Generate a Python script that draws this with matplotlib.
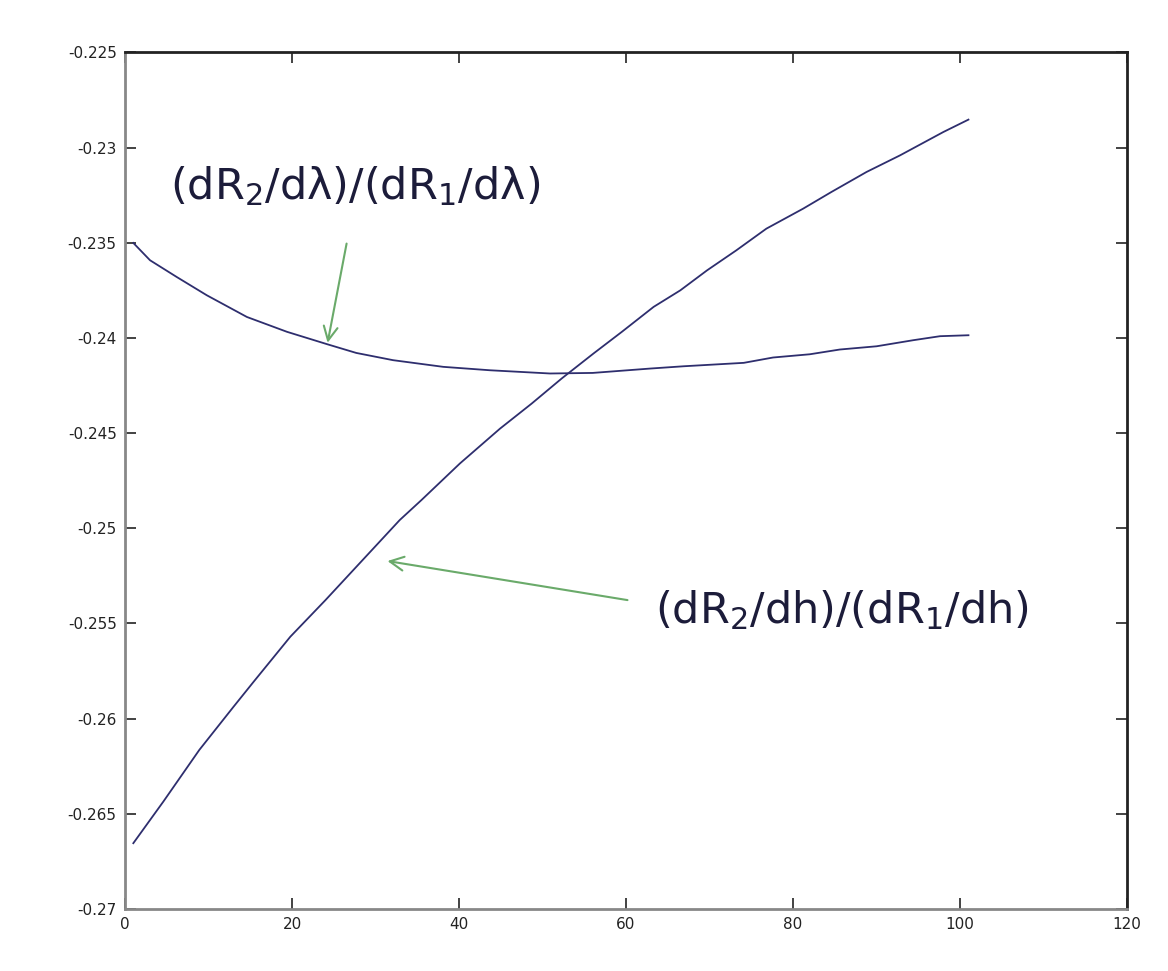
import matplotlib
matplotlib.use("Agg")
import matplotlib.pyplot as plt

# Curve 1: (dR2/dλ)/(dR1/dλ)
x_lam = [1, 3, 6.2, 9.8, 14.6, 19.4, 24.2, 27.7, 32.1, 38.1, 43.7, 50.9, 56, 62.9, 66.9, 74.1, 77.6, 82.0, 85.6, 90.0, 94.4, 97.6, 101]
y_lam = [-0.23501, -0.23592, -0.23680, -0.23776, -0.23890, -0.23968, -0.24033, -0.24079, -0.24117, -0.24152,
         -0.24170, -0.24187, -0.24184, -0.24161, -0.24149, -0.24131, -0.24103, -0.24086, -0.24061, -0.24044,
         -0.24012, -0.23991, -0.23986]

# Curve 2: (dR2/dh)/(dR1/dh)
x_h = [1, 4.6, 8.9, 13.0, 15.4, 19.8, 24.0, 32.9, 35.5, 40.1, 44.9, 48.7, 52.3, 56.1, 59.5, 63.3, 66.5, 69.7,
       73.2, 76.8, 81.2, 84.6, 88.8, 92.8, 98.0, 101]
y_h = [-0.26655, -0.26436, -0.26165, -0.25938, -0.25807, -0.25570, -0.25378, -0.24957, -0.24852, -0.24660,
       -0.24477, -0.24345, -0.24213, -0.24082, -0.23968, -0.23837, -0.23750, -0.23645, -0.23540, -0.23426,
       -0.23321, -0.23233, -0.23128, -0.23041, -0.22918, -0.22853]

x_ticks = [0, 20, 40, 60, 80, 100, 120]
y_ticks = [-0.27, -0.265, -0.26, -0.255, -0.25, -0.245, -0.24, -0.235, -0.23, -0.225]
y_tick_labels = ["-0.27", "-0.265", "-0.26", "-0.255", "-0.25", "-0.245", "-0.24", "-0.235", "-0.23", "-0.225"]

label_lam = "(dR$_2$/dλ)/(dR$_1$/dλ)"
label_h = "(dR$_2$/dh)/(dR$_1$/dh)"

plt.rcParams['mathtext.fontset'] = 'dejavusans'
plt.rcParams['mathtext.default'] = 'regular'

fig = plt.figure(figsize=(11.68, 9.71), dpi=100)
ax = fig.add_axes([0.107, 0.064, 0.858, 0.882])

line_color = '#2e2e6e'
ax.plot(x_lam, y_lam, color=line_color, lw=1.3)
ax.plot(x_h, y_h, color=line_color, lw=1.3)

ax.set_xlim(0, 120)
ax.set_ylim(-0.27, -0.225)
ax.set_xticks(x_ticks)
ax.set_xticklabels([str(t) for t in x_ticks])
ax.set_yticks(y_ticks)
ax.set_yticklabels(y_tick_labels)
ax.tick_params(direction='in', length=8, width=1.2, top=True, right=True,
               labelsize=11, colors='#222222', pad=6)

for s in ['left', 'bottom']:
    ax.spines[s].set_color('#888888')
    ax.spines[s].set_linewidth(2)
for s in ['top', 'right']:
    ax.spines[s].set_color('#222222')
    ax.spines[s].set_linewidth(2)

text_color = '#1c1c3a'
ax.text(5.4, -0.2320, label_lam, fontsize=31, family='DejaVu Sans', color=text_color, ha='left', va='center')
ax.text(63.5, -0.2543, label_h, fontsize=31, family='DejaVu Sans', color=text_color, ha='left', va='center')

arrow_color = '#6aaa6a'
ax.annotate('', xy=(24.2, -0.2404), xytext=(26.6, -0.2349),
            arrowprops=dict(arrowstyle='->', color=arrow_color, lw=1.5, mutation_scale=25))
ax.annotate('', xy=(31.1, -0.2517), xytext=(60.5, -0.2538),
            arrowprops=dict(arrowstyle='->', color=arrow_color, lw=1.5, mutation_scale=25))

fig.savefig('out.png', dpi=100)
